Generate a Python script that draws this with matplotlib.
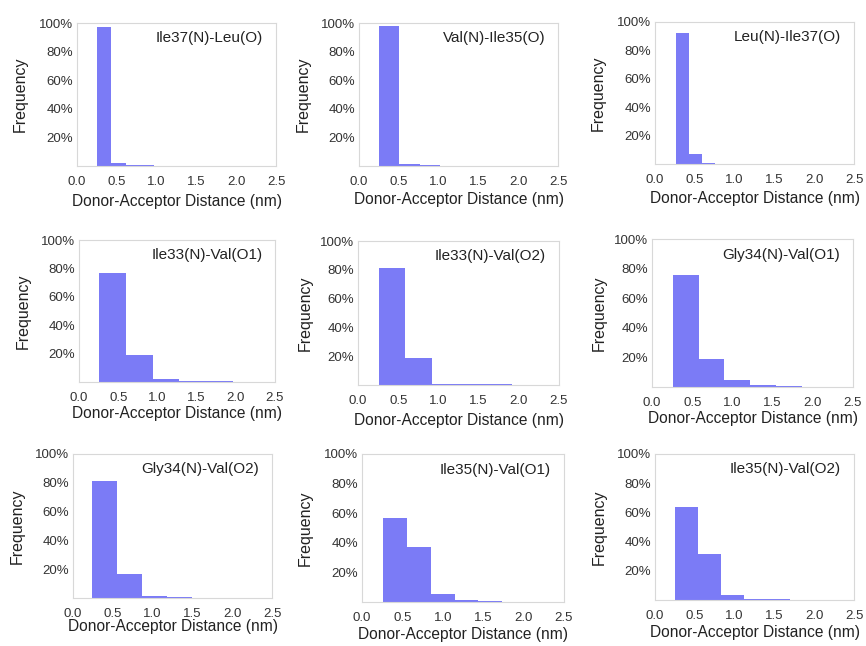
import numpy as np
import matplotlib
matplotlib.use("Agg")
import matplotlib.pyplot as plt

plt.rcParams['font.family'] = ['Liberation Sans', 'DejaVu Sans']

# pair names shown in each panel
labels = ["Ile37(N)-Leu(O)", "Val(N)-Ile35(O)", "Leu(N)-Ile37(O)",
          "Ile33(N)-Val(O1)", "Ile33(N)-Val(O2)", "Gly34(N)-Val(O1)",
          "Gly34(N)-Val(O2)", "Ile35(N)-Val(O1)", "Ile35(N)-Val(O2)"]

# first bin edge and bin width (nm) for each histogram
bin_start = [0.25, 0.25, 0.26, 0.26, 0.26, 0.26, 0.24, 0.26, 0.25]
bin_width = [0.18, 0.256, 0.165, 0.34, 0.33, 0.32, 0.315, 0.295, 0.29]

# frequencies (%) per bin
freqs = [
    [97, 2.2, 0.6, 0.4, 0.2],
    [98, 1.2, 0.5, 0.3, 0.2, 0.1],
    [92, 7, 0.8, 0.3, 0.2, 0.1],
    [77, 19, 2.2, 0.8, 0.4, 0.2],
    [81, 19, 1.0, 0.5, 0.5, 0.2],
    [76, 19, 4.5, 1.2, 0.4, 0.1],
    [81, 17, 1.6, 0.7, 0.3, 0.1],
    [57, 37, 5.6, 1.1, 0.5, 0.3],
    [64, 31.5, 3.4, 1.0, 0.5, 0.2, 0.1],
]

yticks = [20, 40, 60, 80, 100]
xticks = [0.0, 0.5, 1.0, 1.5, 2.0, 2.5]

W, H = 866, 646
# axes boxes in pixels: left, top, width, height
boxes = [(77, 23, 199, 143), (359, 23, 199, 143), (655, 22, 199, 142),
         (79, 240, 196, 142), (358, 241, 201, 144), (652, 239, 201, 148),
         (73, 454, 199, 144), (362, 454, 202, 148), (655, 454, 199, 146)]
# label centres in pixels: ylabel x, xlabel y
ylab_x = [20, 303, 598, 23, 305, 599, 17, 305, 599]
xlab_y = [201, 199, 198, 413, 421, 419, 627, 634, 633]

fig = plt.figure(figsize=(W / 100, H / 100), dpi=100)

for i in range(9):
    x0, y0, w, h = boxes[i]
    ax = fig.add_axes([x0 / W, 1 - (y0 + h) / H, w / W, h / H])
    f = freqs[i]
    edges = bin_start[i] + bin_width[i] * np.arange(len(f))
    ax.bar(edges, f, width=bin_width[i], align='edge', color='#7b7bf6',
           edgecolor='none')
    ax.set_xlim(0, 2.5)
    ax.set_ylim(0, 100)
    ax.set_xticks(xticks)
    ax.set_xticklabels([f"{t:.1f}" for t in xticks])
    ax.set_yticks(yticks)
    ax.set_yticklabels([f"{t}%" for t in yticks])
    ax.tick_params(length=0, labelsize=9.5, colors='#333333')
    ax.tick_params(axis='x', pad=7)
    ax.tick_params(axis='y', pad=3)
    for s in ax.spines.values():
        s.set_color('#d8d8d8')
        s.set_linewidth(0.8)
    ax.set_ylabel("Frequency", fontsize=11.5, color='#222222', va='center')
    ax.yaxis.set_label_coords((ylab_x[i] - x0) / w, 0.5)
    ax.set_xlabel("Donor-Acceptor Distance (nm)", fontsize=11.2,
                  color='#222222', va='center')
    ax.xaxis.set_label_coords(0.5, -(xlab_y[i] - y0 - h) / h)
    ax.text(0.935, 0.895, labels[i], transform=ax.transAxes, ha='right',
            va='center', fontsize=11, color='#222222')

fig.savefig("out.png", dpi=100)
